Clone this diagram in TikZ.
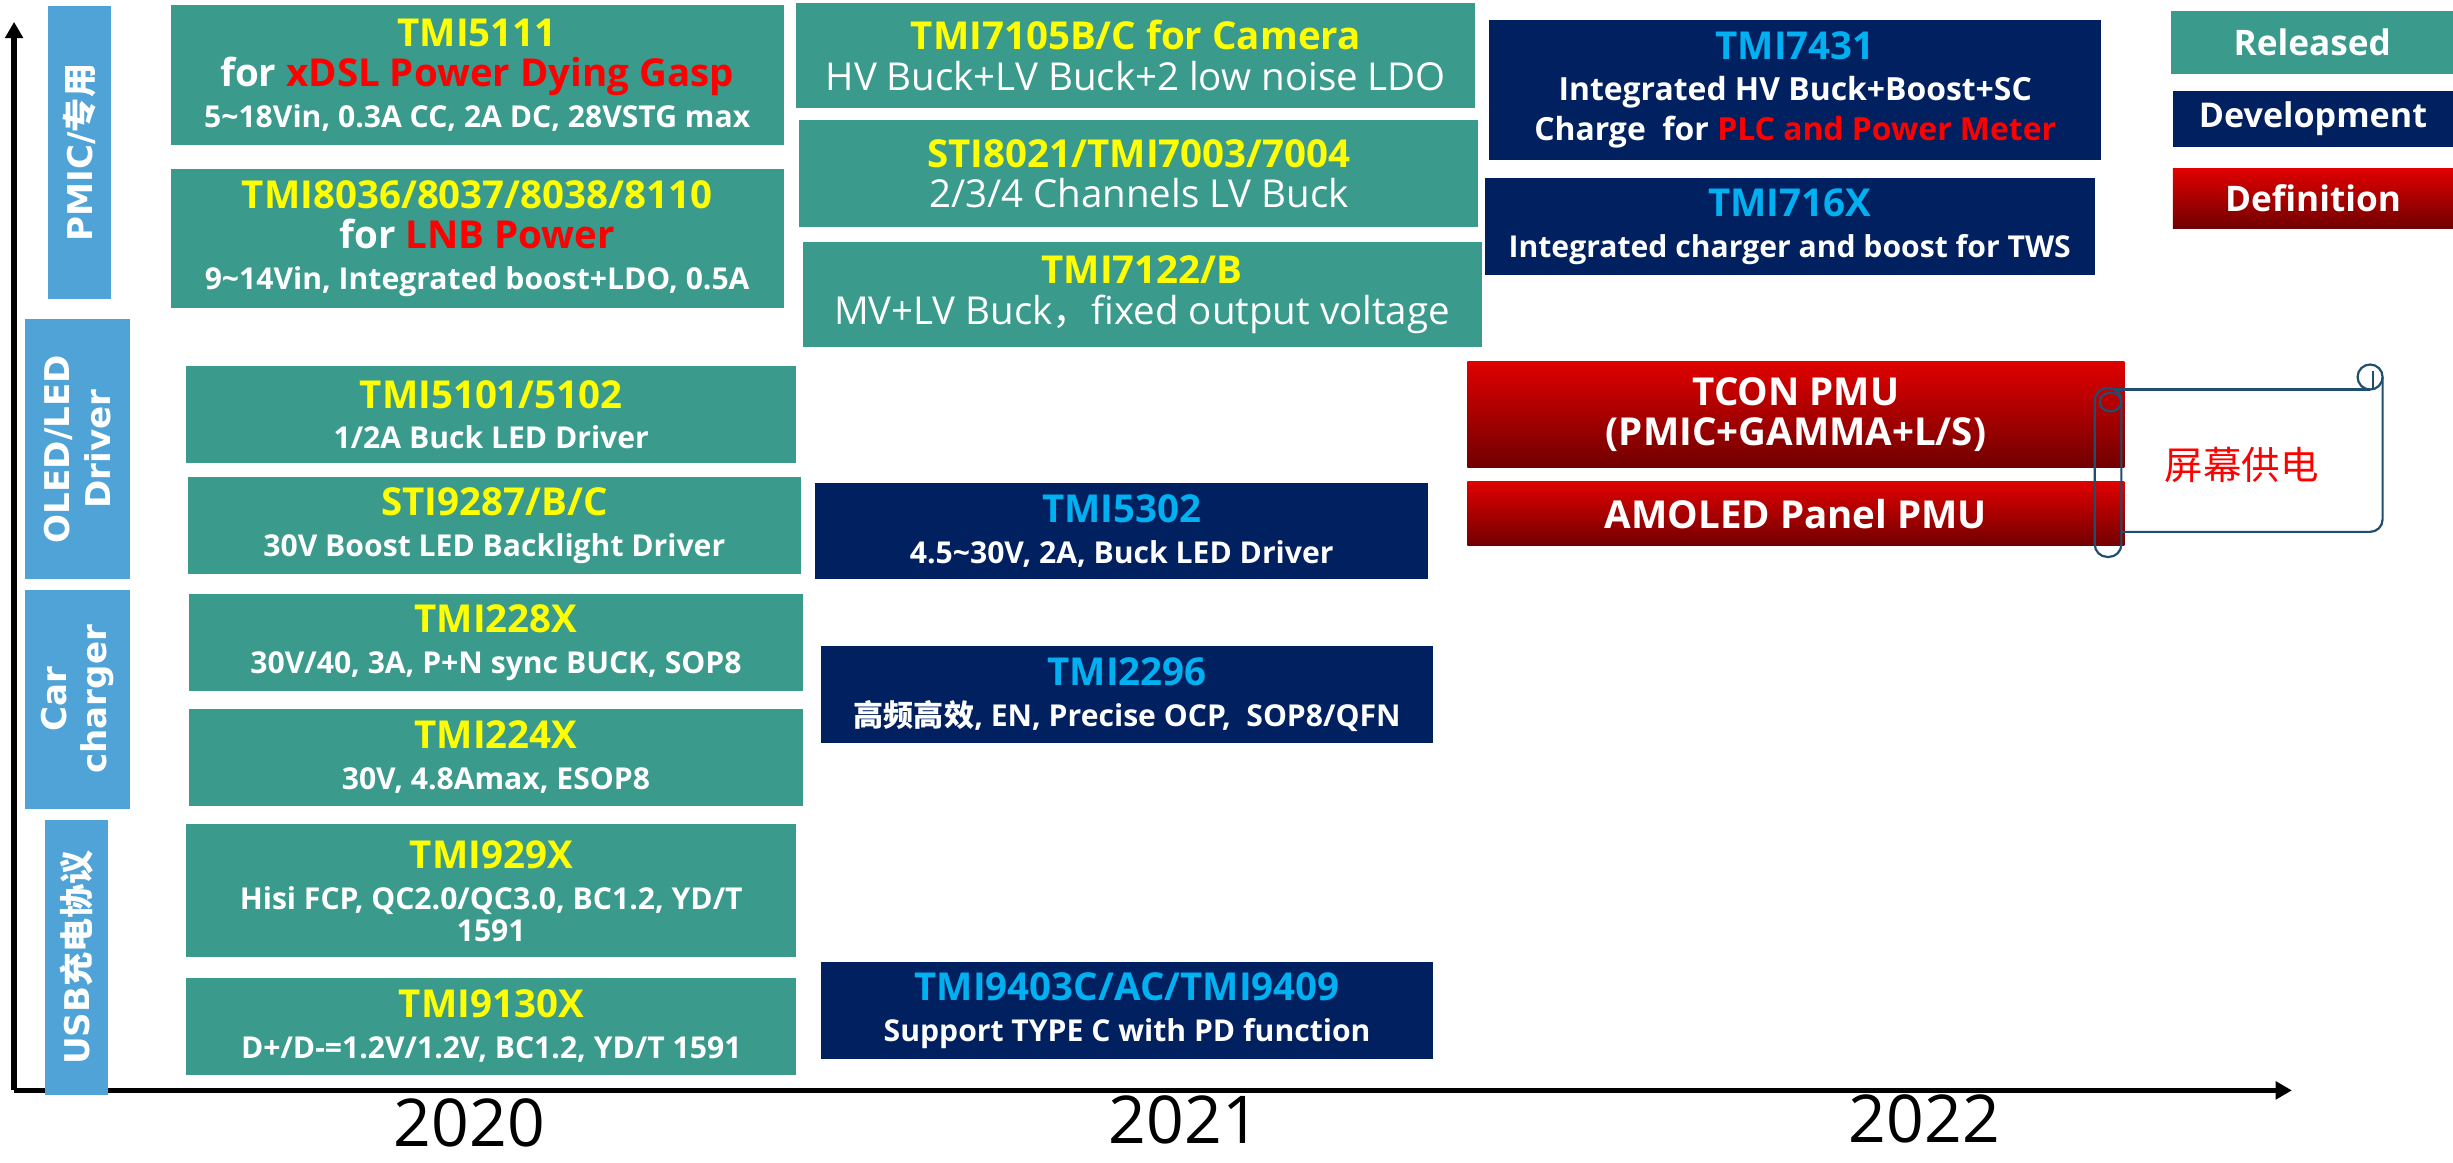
\documentclass[tikz,border=0pt]{standalone}
\usepackage{fontspec}
\setmainfont{Open Sans}
\newfontfamily\cjk{Noto Sans CJK SC}
\newfontfamily\catfont{DejaVu Sans}
\usetikzlibrary{arrows.meta}
\definecolor{teal1}{HTML}{3A9A8C}
\definecolor{navy1}{HTML}{002060}
\definecolor{catblue}{HTML}{4FA3D6}
\definecolor{tyellow}{HTML}{FFFF00}
\definecolor{tcyan}{HTML}{00B0F0}
\definecolor{tred}{HTML}{FF0000}
\definecolor{redtop}{HTML}{E00000}
\definecolor{redbot}{HTML}{700000}
\definecolor{scrollc}{HTML}{1F4E6E}
\newcommand\ttY[1]{{\color{tyellow}#1}}
\newcommand\ttC[1]{{\color{tcyan}#1}}
\newcommand\subT[1]{{\fontsize{13.7}{18.5}\selectfont #1}}
\newcommand\redT[1]{{\color{tred}#1}}
\newcommand\prodbox[7]{\node[#6, minimum width={(#4-#2)*0.25mm}, minimum height={(#5-#3)*0.25mm}] (#1) at ({(#2+#4)/2},{-(#3+#5)/2}) {#7};}
\tikzset{
 pbox/.style={rectangle, inner sep=0pt, outer sep=0pt, text=white, align=center, font=\bfseries\fontsize{17.5}{18.5}\selectfont},
 relbox/.style={pbox, fill=teal1},
 devbox/.style={pbox, fill=navy1},
 defbox/.style={pbox, top color=redtop, bottom color=redbot},
 catbar/.style={rectangle, fill=catblue, inner sep=0pt, outer sep=0pt, text=white, align=center, rotate=90, font=\catfont\bfseries\fontsize{15.5}{18.5}\selectfont},
 axisline/.style={line width=2.4pt, -{Triangle[length=2.6mm, width=2.8mm]}},
 yearlbl/.style={font=\fontsize{30}{34}\selectfont, inner sep=0pt},
 scrollline/.style={draw=scrollc, line width=1pt},
}
\begin{document}
\begin{tikzpicture}[x=0.25mm, y=0.25mm]
\useasboundingbox (0,0) rectangle (1568,-743);
% axes
\coordinate (org) at (9,-697);
\coordinate (ytop) at (9,-14);
\coordinate (xend) at (1465,-697);
\draw[axisline] (org) -- (ytop);
\draw[axisline] (org) -- (xend);
% category bars
\node[catbar, minimum width={(191-4)*0.25mm}, minimum height={(71-31)*0.25mm}] (cat1) at (51,-97.5) {PMIC/{\cjk 专用}};
\node[catbar, minimum width={(370-204)*0.25mm}, minimum height={(83-16)*0.25mm}] (cat2) at (49.5,-287) {OLED/LED\\Driver};
\node[catbar, minimum width={(517-377)*0.25mm}, minimum height={(83-16)*0.25mm}] (cat3) at (49.5,-447) {Car\\charger};
\node[catbar, minimum width={(700-524)*0.25mm}, minimum height={(69-29)*0.25mm}] (cat4) at (49,-612) {USB{\cjk 充电协议}};
% column 2020
\prodbox{b5111}{109}{3}{501}{93}{relbox}{\ttY{TMI5111}\\for \redT{xDSL Power Dying Gasp}\\\subT{5\textasciitilde18Vin, 0.3A CC, 2A DC, 28VSTG max}}
\prodbox{b8036}{109}{108}{501}{197}{relbox}{\ttY{TMI8036/8037/8038/8110}\\for \redT{LNB Power}\\\subT{9\textasciitilde14Vin, Integrated boost+LDO, 0.5A}}
\prodbox{b5101}{119}{234}{509}{296}{relbox}{\ttY{TMI5101/5102}\\\subT{1/2A Buck LED Driver}}
\prodbox{b9287}{120}{305}{512}{367}{relbox}{\ttY{STI9287/B/C}\\\subT{30V Boost LED Backlight Driver}}
\prodbox{b228}{121}{380}{513}{442}{relbox}{\ttY{TMI228X}\\\subT{30V/40, 3A, P+N sync BUCK, SOP8}}
\prodbox{b224}{121}{453}{513}{515}{relbox}{\ttY{TMI224X}\\\subT{30V, 4.8Amax, ESOP8}}
\prodbox{b929}{119}{527}{509}{612}{relbox}{\ttY{TMI929X}\\\subT{Hisi FCP, QC2.0/QC3.0, BC1.2, YD/T}\\[-4pt]\subT{1591}}
\prodbox{b9130}{119}{625}{509}{687}{relbox}{\ttY{TMI9130X}\\\subT{D+/D-=1.2V/1.2V, BC1.2, YD/T 1591}}
% column 2021
\prodbox{b7105}{509}{2}{943}{69}{relbox}{\ttY{TMI7105B/C for Camera}\\{\mdseries HV Buck+LV Buck+2 low noise LDO}}
\prodbox{b8021}{511}{77}{945}{145}{relbox}{\ttY{STI8021/TMI7003/7004}\\{\mdseries 2/3/4 Channels LV Buck}}
\prodbox{b7122}{513}{155}{947}{222}{relbox}{\ttY{TMI7122/B}\\{\mdseries MV+LV Buck{\cjk ，}fixed output voltage}}
\prodbox{b5302}{521}{309}{913}{370}{devbox}{\ttC{TMI5302}\\\subT{4.5\textasciitilde30V, 2A, Buck LED Driver}}
\prodbox{b2296}{525}{413}{916}{475}{devbox}{\ttC{TMI2296}\\\subT{{\cjk 高频高效}, EN, Precise OCP,\ \ SOP8/QFN}}
\prodbox{b9403}{525}{615}{916}{677}{devbox}{\ttC{TMI9403C/AC/TMI9409}\\\subT{Support TYPE C with PD function}}
% column 2022
\prodbox{b7431}{952}{13}{1343}{102}{devbox}{\ttC{TMI7431}\\{\fontsize{14.5}{18.5}\selectfont Integrated HV Buck+Boost+SC}\\{\fontsize{14.5}{18.5}\selectfont Charge\ \ for \redT{PLC and Power Meter}}}
\prodbox{b716}{949}{114}{1339}{176}{devbox}{\ttC{TMI716X}\\\subT{Integrated charger and boost for TWS}}
\prodbox{tcon}{938}{231}{1358}{299}{defbox}{TCON PMU\\(PMIC+GAMMA+L/S)}
\prodbox{amoled}{938}{308}{1358}{349}{defbox}{AMOLED Panel PMU}
% legend
\prodbox{lrel}{1388}{7}{1568}{47}{relbox}{{\fontsize{16}{18}\selectfont Released}}
\prodbox{ldev}{1389}{58}{1568}{94}{devbox}{{\fontsize{15.5}{18}\selectfont Development}}
\prodbox{ldef}{1389}{108}{1568}{146}{defbox}{{\fontsize{16}{18}\selectfont Definition}}
% scroll
\draw[scrollline, rounded corners=2mm] (1339,-248) rectangle (1356,-356);
\draw[scrollline] (1349,-257) ellipse [x radius=1.7mm, y radius=1.5mm];
\draw[scrollline] (1352,-249) -- (1515,-249);
\draw[scrollline] (1515,-241) ellipse [x radius=2mm, y radius=2mm];
\draw[scrollline] (1517,-237) -- (1517,-249);
\draw[scrollline] (1523,-241) -- (1523,-332) arc[start angle=0, end angle=-90, radius=2mm] -- (1356,-340);
\node[font=\cjk\fontsize{17.5}{20}\selectfont, text=tred, inner sep=0pt] (scrolltxt) at (1433,-297) {屏幕供电};
% years
\node[yearlbl] (y2020) at (300,-718) {2020};
\node[yearlbl] (y2021) at (757,-716) {2021};
\node[yearlbl] (y2022) at (1230,-715) {2022};
\end{tikzpicture}
\end{document}
